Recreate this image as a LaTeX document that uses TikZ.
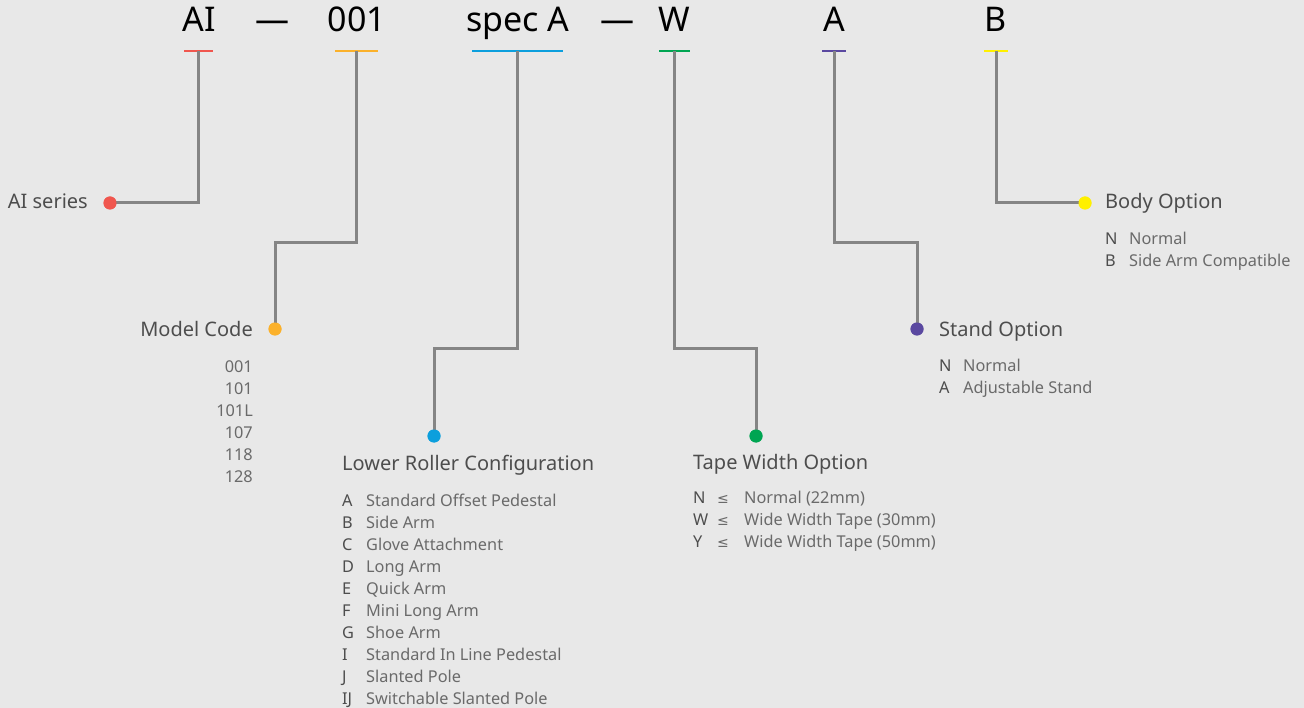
\documentclass[tikz,border=0pt]{standalone}
\usepackage{fontspec}
\setmainfont{Noto Sans}
\newfontfamily\symfont{DejaVu Sans}
\definecolor{bg}{HTML}{E8E8E8}
\definecolor{linegray}{HTML}{858585}
\definecolor{headgray}{HTML}{4D4D4D}
\definecolor{itemgray}{HTML}{6A6A6A}
\definecolor{cred}{HTML}{F0564E}
\definecolor{corange}{HTML}{FBB12B}
\definecolor{cblue}{HTML}{0C9FDD}
\definecolor{cgreen}{HTML}{00A552}
\definecolor{cpurple}{HTML}{5A48A0}
\definecolor{cyellow}{HTML}{FFF000}
\begin{document}
\begin{tikzpicture}[x=1pt,y=-1pt,
  bar/.style={fill=#1,inner sep=0pt,minimum height=2.8pt},
  dot/.style={circle,fill=#1,inner sep=0pt,minimum size=13pt},
  link/.style={draw=linegray,line width=3pt},
  big/.style={anchor=base,inner sep=0pt,font=\fontsize{34}{40}\selectfont},
  head/.style={anchor=base west,inner sep=0pt,text=headgray,font=\fontsize{20}{24}\selectfont},
  item/.style={anchor=base west,inner sep=0pt,text=itemgray,font=\fontsize{16.3}{20}\selectfont},
  code/.style={anchor=base west,inner sep=0pt,text=headgray,font=\fontsize{16.3}{20}\selectfont}]
\fill[bg](0,0)rectangle(1304,708);
\useasboundingbox(0,0)rectangle(1304,708);
% code letters on top
\foreach \n/\x/\t in {tAI/199/AI,tda/272/—,tmod/357/001,tspec/518/spec A,tdb/617/—,tW/674/W,tA/834/A,tB/996/B}
  \node[big](\n)at(\x,32){\t};
% coloured bars
\foreach \n/\x/\w/\c in {bAI/198.5/29/cred,bmod/356.5/43/corange,bspec/517.5/91/cblue,bW/674.5/31/cgreen,bA/834/24/cpurple,bB/996/24/cyellow}
  \node[bar=\c,minimum width=\w pt](\n)at(\x,51){};
% dots
\node[dot=cred](dAI)at(110,203){};
\node[dot=corange](dmod)at(275,329){};
\node[dot=cblue](dspec)at(434,436){};
\node[dot=cgreen](dW)at(756,436){};
\node[dot=cpurple](dA)at(917,329){};
\node[dot=cyellow](dB)at(1085,203){};
% connectors
\draw[link](bAI.center)|-(dAI.center);
\draw[link](bmod.center)--++(0,192)-|(dmod.center);
\draw[link](bspec.center)--++(0,298)-|(dspec.center);
\draw[link](bW.center)--++(0,298)-|(dW.center);
\draw[link](bA.center)--++(0,192)-|(dA.center);
\draw[link](bB.center)|-(dB.center);
\foreach \d/\c in {dAI/cred,dmod/corange,dspec/cblue,dW/cgreen,dA/cpurple,dB/cyellow}
  \fill[\c](\d)circle(6.5);
% titles
\node[head,anchor=base east](hAI)at(88,209){AI series};
\node[head,anchor=base east](hmod)at(253,336.5){Model Code};
\node[head](hspec)at(342,470){Lower Roller Configuration};
\node[head](hW)at(693,469){Tape Width Option};
\node[head](hA)at(939,336.5){Stand Option};
\node[head](hB)at(1105,209){Body Option};
% model codes
\foreach \t [count=\i] in {001,101,101L,107,118,128}
  \node[item,anchor=base east](m\i)at(253,350.5+\i*22){\t};
% lower roller
\foreach \k/\t [count=\i] in {A/Standard Offset Pedestal,B/Side Arm,C/Glove Attachment,D/Long Arm,E/Quick Arm,F/Mini Long Arm,G/Shoe Arm,I/Standard In Line Pedestal,J/Slanted Pole,IJ/Switchable Slanted Pole}{
  \node[code](ks\i)at(342,484+\i*22){\k};
  \node[item](s\i)at(366,484+\i*22){\t};
}
% tape width
\foreach \k/\t [count=\i] in {N/Normal (22mm),W/Wide Width Tape (30mm),Y/Wide Width Tape (50mm)}{
  \node[code](kw\i)at(693,481+\i*22){\k};
  \node[item](lw\i)at(717,481+\i*22){\symfont\fontsize{14}{18}\selectfont≤};
  \node[item](w\i)at(744,481+\i*22){\t};
}
% stand
\foreach \k/\t [count=\i] in {N/Normal,A/Adjustable Stand}{
  \node[code](ka\i)at(939,350.5+\i*21.5){\k};
  \node[item](a\i)at(963,350.5+\i*21.5){\t};
}
% body
\foreach \k/\t [count=\i] in {N/Normal,B/Side Arm Compatible}{
  \node[code](kb\i)at(1105,223+\i*22){\k};
  \node[item](b\i)at(1129,223+\i*22){\t};
}
\end{tikzpicture}
\end{document}
